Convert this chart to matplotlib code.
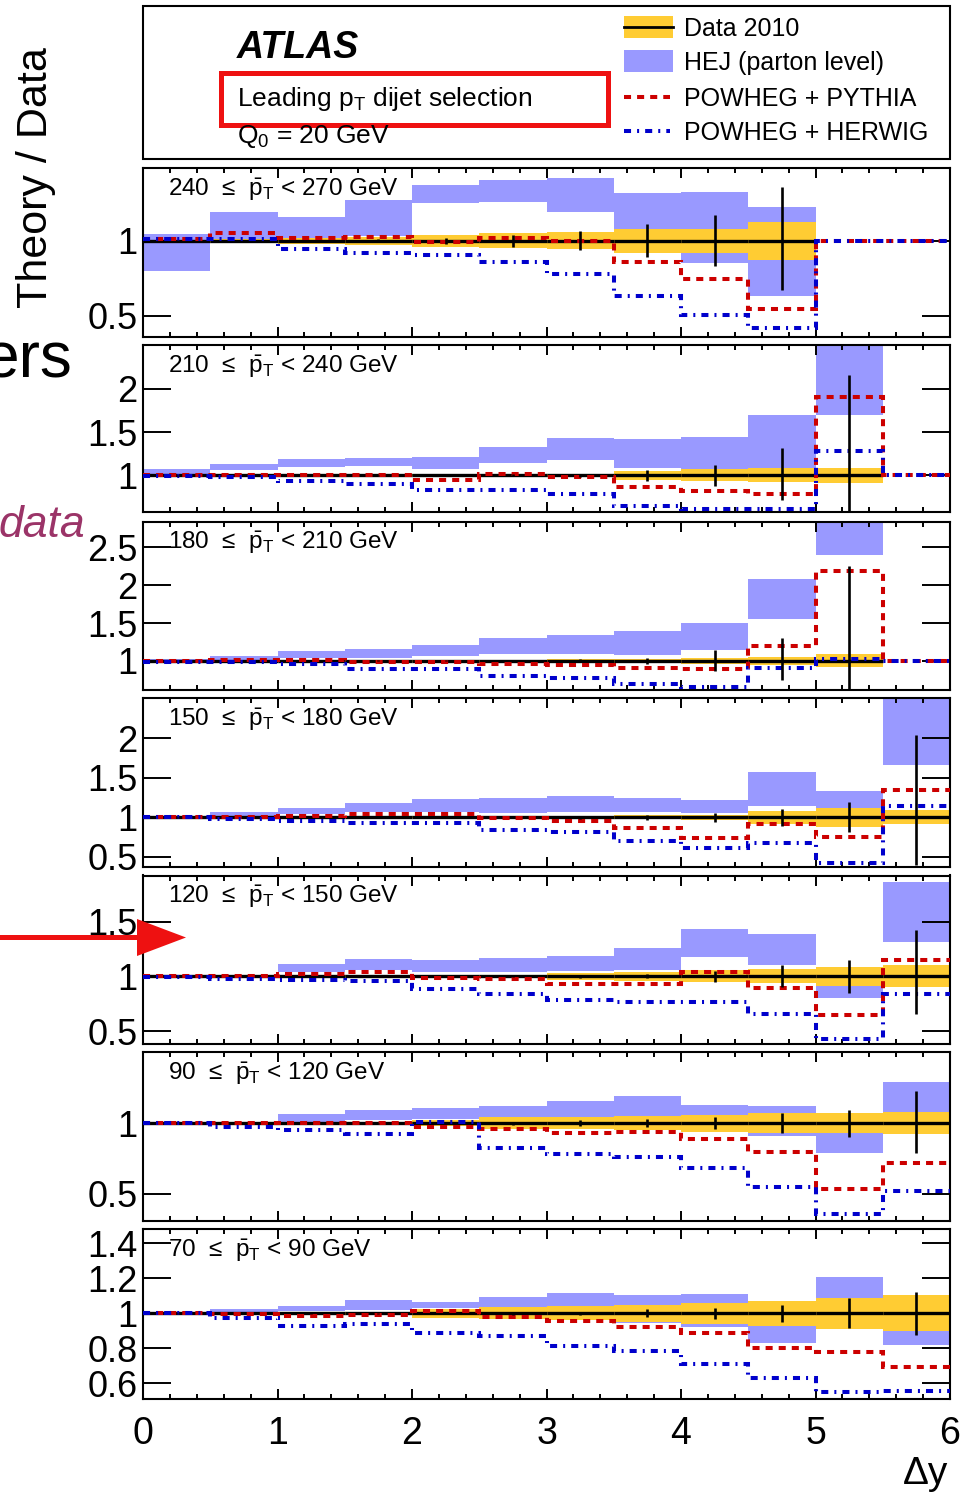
import numpy as np
import matplotlib
matplotlib.use("Agg")
import matplotlib.pyplot as plt
from matplotlib.patches import Rectangle, Polygon
from matplotlib.lines import Line2D
from matplotlib.ticker import FixedLocator, MultipleLocator, FuncFormatter, NullLocator

nan = float("nan")

# Rapidity-interval binning shared by every slice
DY_EDGES = [0.0, 0.5, 1.0, 1.5, 2.0, 2.5, 3.0, 3.5, 4.0, 4.5, 5.0, 5.5, 6.0]
X_TICKS = [0, 1, 2, 3, 4, 5, 6]

# ---------------- 240 <= pT < 270 GeV ----------------
PT_240 = (240, 270)
DATA_240 = [1, 1, 1, 1, 1, 1, 1, 1, 1, 1, nan, nan]
SYS_240 = [0.008, 0.012, 0.02, 0.025, 0.04, 0.05, 0.058, 0.08, 0.082, 0.125, nan, nan]
STAT_UP_240 = [0.004, 0.005, 0.006, 0.01, 0.02, 0.04, 0.064, 0.11, 0.17, 0.36, nan, nan]
STAT_DN_240 = [0.004, 0.005, 0.006, 0.01, 0.02, 0.04, 0.064, 0.11, 0.17, 0.33, nan, nan]
HEJ_LO_240 = [0.80, 1.01, 1.02, 1.03, 1.25, 1.26, 1.194, 1.08, 0.853, 0.634, nan, nan]
HEJ_HI_240 = [1.045, 1.19, 1.156, 1.27, 1.37, 1.41, 1.417, 1.32, 1.328, 1.228, nan, nan]
PYTHIA_240 = [1.01, 1.05, 1.02, 1.025, 0.99, 1.016, 1.0, 0.859, 0.746, 0.547, 1.0, 1.0]
HERWIG_240 = [1.01, 1.01, 0.944, 0.92, 0.905, 0.855, 0.775, 0.63, 0.507, 0.417, 1.0, 1.0]

# ---------------- 210 <= pT < 240 GeV ----------------
PT_210 = (210, 240)
DATA_210 = [1, 1, 1, 1, 1, 1, 1, 1, 1, 1, 1, nan]
SYS_210 = [0.008, 0.008, 0.01, 0.01, 0.012, 0.015, 0.02, 0.055, 0.07, 0.08, 0.09, nan]
STAT_UP_210 = [0.003, 0.003, 0.004, 0.005, 0.007, 0.01, 0.02, 0.06, 0.125, 0.315, 1.16, nan]
STAT_DN_210 = [0.003, 0.003, 0.004, 0.005, 0.007, 0.01, 0.02, 0.06, 0.125, 0.28, 1.16, nan]
HEJ_LO_210 = [1.02, 1.058, 1.096, 1.104, 1.077, 1.142, 1.173, 1.085, 1.065, 1.077, 1.70, nan]
HEJ_HI_210 = [1.077, 1.135, 1.185, 1.20, 1.21, 1.327, 1.43, 1.42, 1.442, 1.70, 2.9, nan]
PYTHIA_210 = [1.0, 1.0, 1.0, 1.0, 0.95, 1.02, 0.98, 0.862, 0.82, 0.79, 1.90, 1.0]
HERWIG_210 = [0.99, 0.98, 0.94, 0.90, 0.83, 0.83, 0.78, 0.646, 0.615, 0.615, 1.277, 1.0]

# ---------------- 180 <= pT < 210 GeV ----------------
PT_180 = (180, 210)
DATA_180 = [1, 1, 1, 1, 1, 1, 1, 1, 1, 1, 1, nan]
SYS_180 = [0.006, 0.006, 0.008, 0.01, 0.012, 0.015, 0.02, 0.03, 0.04, 0.05, 0.085, nan]
STAT_UP_180 = [0.003, 0.003, 0.004, 0.005, 0.006, 0.01, 0.02, 0.04, 0.14, 0.30, 1.25, nan]
STAT_DN_180 = [0.003, 0.003, 0.004, 0.005, 0.006, 0.01, 0.02, 0.04, 0.14, 0.26, 1.25, nan]
HEJ_LO_180 = [1.0, 1.013, 1.044, 1.035, 1.058, 1.09, 1.09, 1.08, 1.146, 1.554, 2.40, nan]
HEJ_HI_180 = [1.03, 1.07, 1.133, 1.155, 1.21, 1.30, 1.337, 1.40, 1.50, 2.077, 3.2, nan]
PYTHIA_180 = [1.0, 1.01, 1.01, 0.99, 0.99, 0.955, 0.947, 0.90, 0.893, 1.19, 2.19, 1.0]
HERWIG_180 = [0.98, 0.98, 0.96, 0.894, 0.894, 0.805, 0.77, 0.694, 0.66, 0.90, 1.02, 1.0]

# ---------------- 150 <= pT < 180 GeV ----------------
PT_150 = (150, 180)
DATA_150 = [1, 1, 1, 1, 1, 1, 1, 1, 1, 1, 1, 1]
SYS_150 = [0.005, 0.006, 0.008, 0.01, 0.012, 0.015, 0.02, 0.025, 0.03, 0.085, 0.12, 0.09]
STAT_UP_150 = [0.003, 0.003, 0.004, 0.005, 0.006, 0.008, 0.015, 0.03, 0.06, 0.11, 0.19, 1.04]
STAT_DN_150 = [0.003, 0.003, 0.004, 0.005, 0.006, 0.008, 0.015, 0.03, 0.06, 0.11, 0.19, 0.60]
HEJ_LO_150 = [0.99, 1.01, 1.04, 1.07, 1.07, 1.05, 1.07, 1.064, 1.05, 1.144, 0.88, 1.667]
HEJ_HI_150 = [1.01, 1.064, 1.115, 1.178, 1.233, 1.25, 1.276, 1.25, 1.22, 1.58, 1.335, 2.9]
PYTHIA_150 = [1.0, 1.01, 1.02, 1.04, 1.04, 0.99, 0.95, 0.87, 0.74, 0.92, 0.754, 1.35]
HERWIG_150 = [1.0, 0.975, 0.953, 0.924, 0.924, 0.84, 0.817, 0.70, 0.618, 0.67, 0.427, 1.15]

# ---------------- 120 <= pT < 150 GeV ----------------
PT_120 = (120, 150)
DATA_120 = [1, 1, 1, 1, 1, 1, 1, 1, 1, 1, 1, 1]
SYS_120 = [0.005, 0.006, 0.008, 0.01, 0.012, 0.015, 0.03, 0.04, 0.055, 0.063, 0.088, 0.10]
STAT_UP_120 = [0.003, 0.003, 0.004, 0.005, 0.006, 0.008, 0.012, 0.02, 0.05, 0.10, 0.15, 0.42]
STAT_DN_120 = [0.003, 0.003, 0.004, 0.005, 0.006, 0.008, 0.012, 0.02, 0.05, 0.10, 0.15, 0.34]
HEJ_LO_120 = [1.0, 1.0, 1.04, 1.055, 1.04, 1.04, 1.046, 1.055, 1.18, 1.107, 0.80, 1.315]
HEJ_HI_120 = [1.01, 1.015, 1.116, 1.162, 1.153, 1.168, 1.183, 1.254, 1.43, 1.39, 0.933, 1.865]
PYTHIA_120 = [1.0, 1.0, 1.025, 1.04, 0.98, 0.973, 0.933, 0.933, 1.04, 0.896, 0.648, 1.147]
HERWIG_120 = [0.995, 0.973, 0.963, 0.954, 0.887, 0.835, 0.786, 0.765, 0.765, 0.657, 0.43, 0.84]

# ---------------- 90 <= pT < 120 GeV ----------------
PT_90 = (90, 120)
DATA_90 = [1, 1, 1, 1, 1, 1, 1, 1, 1, 1, 1, 1]
SYS_90 = [0.005, 0.006, 0.008, 0.01, 0.02, 0.04, 0.045, 0.05, 0.06, 0.068, 0.068, 0.075]
STAT_UP_90 = [0.002, 0.003, 0.003, 0.004, 0.006, 0.01, 0.02, 0.03, 0.043, 0.07, 0.095, 0.23]
STAT_DN_90 = [0.002, 0.003, 0.003, 0.004, 0.006, 0.01, 0.02, 0.03, 0.043, 0.07, 0.095, 0.21]
HEJ_LO_90 = [0.995, 0.995, 1.007, 1.024, 1.028, 1.035, 1.04, 1.047, 0.94, 0.906, 0.792, 1.064]
HEJ_HI_90 = [1.005, 1.008, 1.066, 1.09, 1.106, 1.118, 1.153, 1.193, 1.13, 1.118, 1.06, 1.288]
PYTHIA_90 = [1.0, 1.0, 1.0, 1.0, 0.97, 0.957, 0.93, 0.94, 0.89, 0.795, 0.535, 0.717]
HERWIG_90 = [1.0, 0.97, 0.953, 0.925, 1.01, 0.823, 0.785, 0.764, 0.686, 0.552, 0.358, 0.52]

# ---------------- 70 <= pT < 90 GeV ----------------
PT_70 = (70, 90)
DATA_70 = [1, 1, 1, 1, 1, 1, 1, 1, 1, 1, 1, 1]
SYS_70 = [0.004, 0.005, 0.005, 0.01, 0.025, 0.035, 0.04, 0.05, 0.06, 0.07, 0.087, 0.103]
STAT_UP_70 = [0.002, 0.002, 0.003, 0.003, 0.005, 0.007, 0.01, 0.022, 0.033, 0.05, 0.086, 0.124]
STAT_DN_70 = [0.002, 0.002, 0.003, 0.003, 0.005, 0.007, 0.01, 0.022, 0.033, 0.05, 0.086, 0.124]
HEJ_LO_70 = [1.0, 1.006, 1.013, 1.02, 1.03, 1.032, 1.038, 0.943, 0.924, 0.832, 1.086, 0.82]
HEJ_HI_70 = [1.01, 1.023, 1.044, 1.076, 1.063, 1.095, 1.118, 1.105, 1.108, 1.067, 1.21, 1.10]
PYTHIA_70 = [1.0, 0.995, 0.987, 0.99, 1.013, 0.98, 0.958, 0.92, 0.89, 0.80, 0.777, 0.695]
HERWIG_70 = [1.0, 0.975, 0.928, 0.937, 0.886, 0.872, 0.815, 0.785, 0.709, 0.629, 0.549, 0.558]

# y ranges and tick values of each slice
YLIM_240, YTICKS_240 = (0.36, 1.487), [0.5, 1]
YLIM_210, YTICKS_210 = (0.577, 2.51), [1, 1.5, 2]
YLIM_180, YTICKS_180 = (0.614, 2.844), [1, 1.5, 2, 2.5]
YLIM_150, YTICKS_150 = (0.371, 2.507), [0.5, 1, 1.5, 2]
YLIM_120, YTICKS_120 = (0.382, 1.92), [0.5, 1, 1.5]
YLIM_90, YTICKS_90 = (0.309, 1.502), [0.5, 1]
YLIM_70, YTICKS_70 = (0.51, 1.482), [0.6, 0.8, 1, 1.2, 1.4]

PANELS = [
    (PT_240, DATA_240, SYS_240, STAT_UP_240, STAT_DN_240, HEJ_LO_240, HEJ_HI_240, PYTHIA_240, HERWIG_240, YLIM_240, YTICKS_240),
    (PT_210, DATA_210, SYS_210, STAT_UP_210, STAT_DN_210, HEJ_LO_210, HEJ_HI_210, PYTHIA_210, HERWIG_210, YLIM_210, YTICKS_210),
    (PT_180, DATA_180, SYS_180, STAT_UP_180, STAT_DN_180, HEJ_LO_180, HEJ_HI_180, PYTHIA_180, HERWIG_180, YLIM_180, YTICKS_180),
    (PT_150, DATA_150, SYS_150, STAT_UP_150, STAT_DN_150, HEJ_LO_150, HEJ_HI_150, PYTHIA_150, HERWIG_150, YLIM_150, YTICKS_150),
    (PT_120, DATA_120, SYS_120, STAT_UP_120, STAT_DN_120, HEJ_LO_120, HEJ_HI_120, PYTHIA_120, HERWIG_120, YLIM_120, YTICKS_120),
    (PT_90, DATA_90, SYS_90, STAT_UP_90, STAT_DN_90, HEJ_LO_90, HEJ_HI_90, PYTHIA_90, HERWIG_90, YLIM_90, YTICKS_90),
    (PT_70, DATA_70, SYS_70, STAT_UP_70, STAT_DN_70, HEJ_LO_70, HEJ_HI_70, PYTHIA_70, HERWIG_70, YLIM_70, YTICKS_70),
]

# ---------------- style ----------------
YELLOW = "#FFCC33"
HEJ_COLOR = "#9999FF"
RED = "#CC0000"
BLUE = "#0000CC"
LW_MODEL = 2.9
RED_STYLE = (0, (1.75, 1.5))
BLUE_STYLE = (0, (1.75, 1.5, 0.5, 1.5))

plt.rcParams["font.family"] = ["Liberation Sans", "DejaVu Sans"]
plt.rcParams["mathtext.fontset"] = "custom"
plt.rcParams["mathtext.rm"] = "Liberation Sans"
plt.rcParams["mathtext.it"] = "Liberation Sans:italic"
plt.rcParams["mathtext.bf"] = "Liberation Sans:bold"

W, H, DPI = 963, 1495, 100
fig = plt.figure(figsize=(W / DPI, H / DPI), dpi=DPI)


def px_rect(x0, y0, x1, y1):
    return [x0 / W, 1 - y1 / H, (x1 - x0) / W, (y1 - y0) / H]


# panel frames in pixels (top, bottom)
PANEL_Y = [(168, 336.5), (344.5, 512), (521.5, 690), (698.5, 867),
           (875.5, 1044), (1052, 1221), (1229, 1399)]
AX_X0, AX_X1 = 143, 950

edges = np.array(DY_EDGES)
left = edges[:-1]
centers = left + 0.25
fmt = FuncFormatter(lambda v, p: f"{v:g}")

for i, (pt, data, sys_, st_up, st_dn, hlo, hhi, pyt, her, ylim, yticks) in enumerate(PANELS):
    top, bot = PANEL_Y[i]
    ax = fig.add_axes(px_rect(AX_X0, top, AX_X1, bot))
    data = np.array(data, float)
    sys_ = np.array(sys_, float)
    st_up = np.array(st_up, float)
    st_dn = np.array(st_dn, float)
    hlo = np.array(hlo, float)
    hhi = np.array(hhi, float)

    okh = ~np.isnan(hlo)
    ax.bar(left[okh], (hhi - hlo)[okh], bottom=hlo[okh], width=0.5, align="edge",
           color=HEJ_COLOR, linewidth=0, zorder=1)
    okd = ~np.isnan(data)
    ax.bar(left[okd], 2 * sys_[okd], bottom=(data - sys_)[okd], width=0.5, align="edge",
           color=YELLOW, linewidth=0, zorder=2)
    ax.hlines(data[okd], left[okd], left[okd] + 0.5, color="black", linewidth=2.4, zorder=3)
    ax.stairs(pyt, edges, baseline=None, color=RED, linewidth=LW_MODEL,
              linestyle=RED_STYLE, capstyle="butt", zorder=4)
    ax.stairs(her, edges, baseline=None, color=BLUE, linewidth=LW_MODEL,
              linestyle=BLUE_STYLE, capstyle="butt", zorder=5)
    ax.errorbar(centers[okd], data[okd], yerr=[st_dn[okd], st_up[okd]], fmt="none",
                ecolor="black", elinewidth=1.9, capsize=0, zorder=6)

    ax.set_xlim(0, 6)
    ax.set_ylim(*ylim)
    ax.xaxis.set_major_locator(FixedLocator(X_TICKS))
    ax.xaxis.set_minor_locator(MultipleLocator(0.2))
    ax.yaxis.set_major_locator(FixedLocator(yticks))
    ax.yaxis.set_minor_locator(NullLocator())
    ax.yaxis.set_major_formatter(fmt)
    ax.tick_params(axis="both", which="both", direction="in", top=True, right=True,
                   width=1.4, color="black")
    ax.tick_params(axis="y", which="major", length=20, labelsize=26, pad=4)
    ax.tick_params(axis="x", which="major", length=7, labelsize=27, pad=12)
    ax.tick_params(axis="x", which="minor", length=3.5)
    if i < len(PANELS) - 1:
        ax.tick_params(axis="x", labelbottom=False)
    for s in ax.spines.values():
        s.set_linewidth(1.5)

    lab = f"{pt[0]}  \u2264  " + r"$\bar{\mathrm{p}}_{\mathrm{T}}$" + f" < {pt[1]} GeV"
    ax.text((168 - AX_X0) / (AX_X1 - AX_X0), 1 - 28 / (bot - top), lab,
            transform=ax.transAxes, fontsize=17.5, ha="left", va="baseline", zorder=10)

# ---------------- overlay in pixel coordinates ----------------
ov = fig.add_axes([0, 0, 1, 1], zorder=20)
ov.set_xlim(0, W)
ov.set_ylim(H, 0)
ov.axis("off")
ov.patch.set_alpha(0)

# legend / info box
ov.add_patch(Rectangle((143, 6), 807, 153, fill=False, edgecolor="black", linewidth=1.5))
ov.text(237, 58, "ATLAS", fontsize=27, fontweight="bold", fontstyle="italic",
        ha="left", va="baseline")
ov.text(237, 106, r"Leading p$_{\mathrm{T}}$ dijet selection", fontsize=19,
        ha="left", va="baseline")
ov.text(237, 143, r"Q$_{0}$ = 20 GeV", fontsize=19, ha="left", va="baseline")
ov.add_patch(Rectangle((221, 73), 387, 52, fill=False, edgecolor="#EE1111", linewidth=3.6))

ov.add_patch(Rectangle((624, 16), 49, 22, facecolor=YELLOW, edgecolor="none"))
ov.add_line(Line2D([624, 673], [27, 27], color="black", linewidth=2.0))
ov.add_patch(Rectangle((624, 50), 49, 22, facecolor=HEJ_COLOR, edgecolor="none"))
ov.add_line(Line2D([624, 670], [97, 97], color=RED, linewidth=LW_MODEL,
                   linestyle=RED_STYLE, dash_capstyle="butt"))
ov.add_line(Line2D([624, 670], [131, 131], color=BLUE, linewidth=LW_MODEL,
                   linestyle=BLUE_STYLE, dash_capstyle="butt"))
for y, s in [(36, "Data 2010"), (70, "HEJ (parton level)"),
             (106, "POWHEG + PYTHIA"), (140, "POWHEG + HERWIG")]:
    ov.text(684, y, s, fontsize=18, ha="left", va="baseline")

# axis titles
ov.text(36, 178, "Theory / Data", fontsize=31, rotation=90, ha="center", va="center")
ov.text(948, 1484, "\u0394y", fontsize=28, ha="right", va="baseline")

# slide annotations around the figure
ov.text(72, 377, "ers", fontsize=46, ha="right", va="baseline", color="black")
ov.text(85, 537, "data", fontsize=32, fontstyle="italic", ha="right", va="baseline",
        color="#9B3468")
ov.add_patch(Polygon([(-5, 935), (137, 935), (137, 919), (186, 937.5),
                      (137, 956), (137, 940), (-5, 940)], closed=True,
                     facecolor="#EE1111", edgecolor="none"))

fig.savefig("out.png", dpi=DPI)
